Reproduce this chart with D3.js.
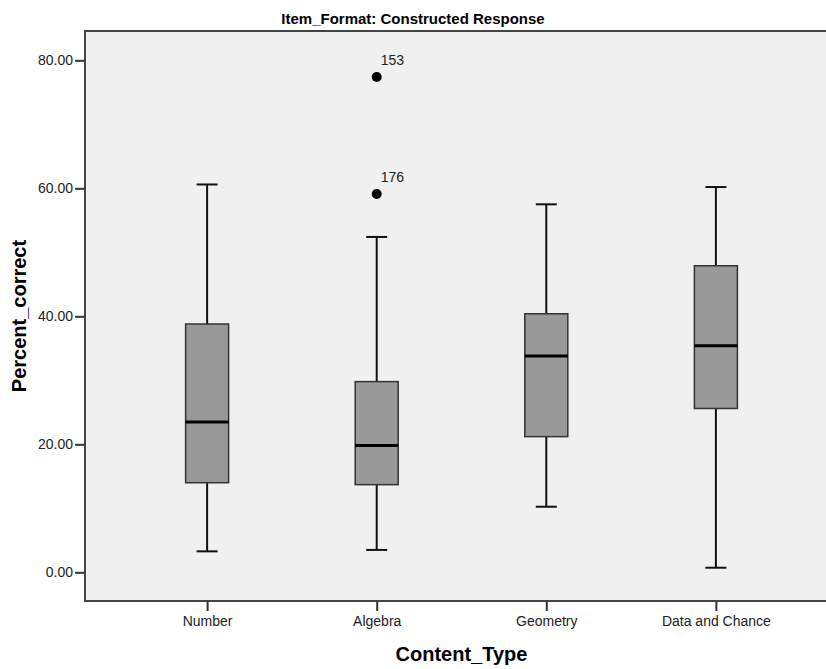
<!DOCTYPE html>
<meta charset="utf-8">
<style>
body { margin: 0; background: #fff; }
svg text { font-family: "Liberation Sans", Arial, sans-serif; fill: #000; }
.axis text { font-size: 14px; fill: #222; }
.axis path { display: none; }
.axis line { stroke: #333; stroke-width: 2px; }
.frame { fill: #f0f0f0; stroke: none; }
.border { stroke: #444; stroke-width: 2px; fill: none; }
.box { fill: #999999; stroke: #333; stroke-width: 1.5px; }
.median { stroke: #000; stroke-width: 3px; }
.whisker { stroke: #111; stroke-width: 2px; }
.title { font-size: 15px; font-weight: bold; }
.axis-title { font-size: 20px; font-weight: bold; }
.outlier-label { font-size: 14px; fill: #222; }
</style>
<body>
<svg id="svg" width="826" height="669"></svg>
<script src="https://cdnjs.cloudflare.com/ajax/libs/d3/7.8.5/d3.min.js"></script>
<script>

var categories = ["Number", "Algebra", "Geometry", "Data and Chance"];
var whiskerLow = [3.28, 3.5, 10.25, 0.72];
var q1 = [14.0, 13.7, 21.2, 25.6];
var median = [23.5, 19.8, 33.8, 35.4];
var q3 = [38.8, 29.8, 40.4, 47.9];
var whiskerHigh = [60.6, 52.4, 57.5, 60.2];
var outliers = [
  {cat: "Algebra", value: 77.4, label: "153"},
  {cat: "Algebra", value: 59.1, label: "176"}
];
var yTicks = [0, 20, 40, 60, 80];

var svg = d3.select("svg"),
    plot = {left: 85, right: 838, top: 31, bottom: 601};

var x = d3.scalePoint().domain(categories).range([plot.left, plot.right]).padding(0.72),
    y = d3.scaleLinear().domain([-4.48, 84.58]).range([plot.bottom, plot.top]);

var boxWidth = 43, capWidth = 21;

var data = categories.map(function(c, i) {
  return {cat: c, lo: whiskerLow[i], q1: q1[i], med: median[i], q3: q3[i], hi: whiskerHigh[i]};
});

svg.append("rect")
    .attr("class", "frame")
    .attr("x", plot.left)
    .attr("y", plot.top)
    .attr("width", plot.right - plot.left)
    .attr("height", plot.bottom - plot.top);

svg.append("path")
    .attr("class", "border")
    .attr("d", "M" + plot.right + "," + plot.top + "H" + plot.left + "V" + plot.bottom + "H" + plot.right);

svg.append("g")
    .attr("class", "axis axis--y")
    .attr("transform", "translate(" + plot.left + ",0)")
    .call(d3.axisLeft(y).tickValues(yTicks).tickSize(10).tickPadding(2).tickFormat(d3.format(".2f")));

svg.append("g")
    .attr("class", "axis axis--x")
    .attr("transform", "translate(0," + plot.bottom + ")")
    .call(d3.axisBottom(x).tickSize(10).tickPadding(5));

var g = svg.selectAll(".boxplot")
  .data(data)
  .enter().append("g")
    .attr("class", "boxplot");

// whiskers
g.append("line")
    .attr("class", "whisker")
    .attr("x1", function(d) { return x(d.cat); })
    .attr("x2", function(d) { return x(d.cat); })
    .attr("y1", function(d) { return y(d.hi); })
    .attr("y2", function(d) { return y(d.q3); });

g.append("line")
    .attr("class", "whisker")
    .attr("x1", function(d) { return x(d.cat); })
    .attr("x2", function(d) { return x(d.cat); })
    .attr("y1", function(d) { return y(d.q1); })
    .attr("y2", function(d) { return y(d.lo); });

g.selectAll(".cap")
  .data(function(d) { return [{cat: d.cat, v: d.hi}, {cat: d.cat, v: d.lo}]; })
  .enter().append("line")
    .attr("class", "whisker cap")
    .attr("x1", function(d) { return x(d.cat) - capWidth / 2; })
    .attr("x2", function(d) { return x(d.cat) + capWidth / 2; })
    .attr("y1", function(d) { return y(d.v); })
    .attr("y2", function(d) { return y(d.v); });

g.append("rect")
    .attr("class", "box")
    .attr("x", function(d) { return x(d.cat) - boxWidth / 2; })
    .attr("y", function(d) { return y(d.q3); })
    .attr("width", boxWidth)
    .attr("height", function(d) { return y(d.q1) - y(d.q3); });

g.append("line")
    .attr("class", "median")
    .attr("x1", function(d) { return x(d.cat) - boxWidth / 2; })
    .attr("x2", function(d) { return x(d.cat) + boxWidth / 2; })
    .attr("y1", function(d) { return y(d.med); })
    .attr("y2", function(d) { return y(d.med); });

// outliers
svg.selectAll(".outlier")
  .data(outliers)
  .enter().append("circle")
    .attr("class", "outlier")
    .attr("cx", function(d) { return x(d.cat); })
    .attr("cy", function(d) { return y(d.value); })
    .attr("r", 5)
    .style("fill", "#000");

svg.selectAll(".outlier-label")
  .data(outliers)
  .enter().append("text")
    .attr("class", "outlier-label")
    .attr("x", function(d) { return x(d.cat) + 4; })
    .attr("y", function(d) { return y(d.value) - 12; })
    .text(function(d) { return d.label; });

svg.append("text")
    .attr("class", "title")
    .attr("x", 413)
    .attr("y", 24)
    .attr("text-anchor", "middle")
    .text("Item_Format: Constructed Response");

svg.append("text")
    .attr("class", "axis-title")
    .attr("x", (plot.left + plot.right) / 2)
    .attr("y", 661)
    .attr("text-anchor", "middle")
    .text("Content_Type");

svg.append("text")
    .attr("class", "axis-title")
    .attr("transform", "translate(26," + (plot.top + plot.bottom) / 2 + ") rotate(-90)")
    .attr("text-anchor", "middle")
    .text("Percent_correct");

</script>
</body>
